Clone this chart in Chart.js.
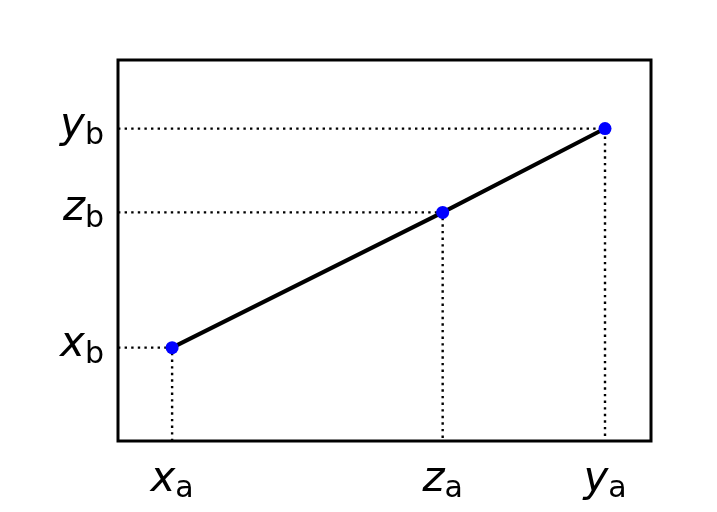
<!DOCTYPE html>
<html>
<head>
<meta charset="utf-8">
<script src="https://cdn.jsdelivr.net/npm/chart.js@4"></script>
<style>
  html, body { margin: 0; padding: 0; background: #fff; }
  #wrap { width: 717px; height: 512px; }
</style>
</head>
<body>
<div id="wrap"><canvas id="c" width="717" height="512"></canvas></div>
<script>
// the three points of the segment
const xValues = [1, 6, 9];
const yValues = [2.45, 6.0, 8.2];
const xTickLabels = [['x', 'a'], ['z', 'a'], ['y', 'a']];
const yTickLabels = [['x', 'b'], ['z', 'b'], ['y', 'b']];
const xRange = [0, 9.85];
const yRange = [0, 10];

const points = xValues.map((x, i) => ({ x: x, y: yValues[i] }));

// dotted guide from the left axis to the point, then down to the bottom axis
const guides = points.map(p => ({
    data: [{ x: xRange[0], y: p.y }, { x: p.x, y: p.y }, { x: p.x, y: yRange[0] }],
    showLine: true,
    borderColor: '#000',
    borderWidth: 2.4,
    borderDash: [2.4, 4.2],
    pointRadius: 0,
    fill: false,
    order: 1
}));

// frame + math-style tick labels (italic letter, upright subscript)
const framePlugin = {
    id: 'frame',
    afterDraw(chart) {
        const ctx = chart.ctx;
        const a = chart.chartArea;
        const xs = chart.scales.x, ys = chart.scales.y;
        ctx.save();
        ctx.strokeStyle = '#000';
        ctx.lineWidth = 3;
        ctx.strokeRect(a.left, a.top, a.right - a.left, a.bottom - a.top);

        const mainFont = 'italic 42px "DejaVu Sans"';
        const subFont = '30px "DejaVu Sans"';
        ctx.fillStyle = '#000';
        ctx.textBaseline = 'alphabetic';

        const measure = (lbl) => {
            ctx.font = mainFont;
            const w1 = ctx.measureText(lbl[0]).width;
            ctx.font = subFont;
            const w2 = ctx.measureText(lbl[1]).width;
            return [w1, w2];
        };
        const drawLabel = (lbl, left, base, subBase) => {
            const [w1] = measure(lbl);
            ctx.font = mainFont;
            ctx.fillText(lbl[0], left, base);
            ctx.font = subFont;
            ctx.fillText(lbl[1], left + w1, subBase);
        };

        xValues.forEach((v, i) => {
            const px = xs.getPixelForValue(v);
            const [w1, w2] = measure(xTickLabels[i]);
            const left = px - (w1 + w2) / 2;
            drawLabel(xTickLabels[i], left, a.bottom + 50, a.bottom + 56);
        });
        yValues.forEach((v, i) => {
            const py = ys.getPixelForValue(v);
            const [w1, w2] = measure(yTickLabels[i]);
            const left = a.left - 14 - (w1 + w2);
            drawLabel(yTickLabels[i], left, py + 8, py + 15);
        });
        ctx.restore();
    }
};

new Chart(document.getElementById('c').getContext('2d'), {
    type: 'scatter',
    data: {
        datasets: [
            ...guides,
            {
                data: points,
                showLine: true,
                borderColor: '#000',
                borderWidth: 4,
                pointRadius: 6.5,
                pointBackgroundColor: '#0000ff',
                pointBorderColor: '#0000ff',
                pointBorderWidth: 0,
                order: 0
            }
        ]
    },
    options: {
        responsive: false,
        animation: false,
        layout: { padding: { left: 118, right: 66, top: 60, bottom: 71 } },
        scales: {
            x: { type: 'linear', display: false, min: xRange[0], max: xRange[1] },
            y: { type: 'linear', display: false, min: yRange[0], max: yRange[1] }
        },
        plugins: {
            legend: { display: false },
            tooltip: { enabled: false }
        }
    },
    plugins: [framePlugin]
});
</script>
</body>
</html>
